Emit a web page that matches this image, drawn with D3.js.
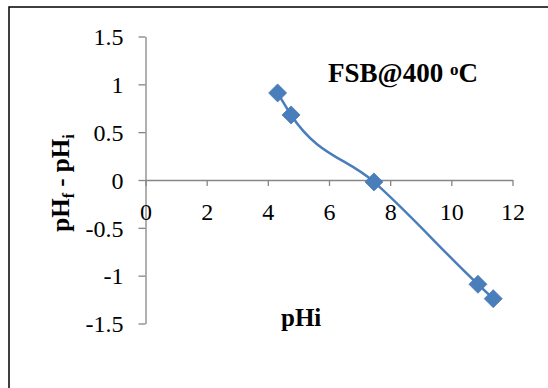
<!DOCTYPE html>
<html>
<head>
<meta charset="utf-8">
<script src="https://cdn.jsdelivr.net/npm/d3@7"></script>
<style>
  html, body { margin: 0; padding: 0; background: #fff; }
  svg { display: block; }
  text { font-family: "Liberation Serif", "Times New Roman", serif; fill: #000; }
</style>
</head>
<body>
<svg id="chart" width="548" height="388"></svg>
<script>
// Initial pH and the change in pH after equilibration
const pHInitial = [4.32, 4.76, 7.47, 10.87, 11.37];
const pHChange = [0.91, 0.68, -0.02, -1.09, -1.24];
const xTicks = [0, 2, 4, 6, 8, 10, 12];
const yTicks = [-1.5, -1, -0.5, 0, 0.5, 1, 1.5];

const svg = d3.select("#chart");
const axisColor = "#868686";
const seriesColor = "#4A7EBB";

// Outer chart border
svg.append("rect")
  .attr("x", 9).attr("y", 7)
  .attr("width", 600).attr("height", 420)
  .attr("fill", "none")
  .attr("stroke", "#000")
  .attr("stroke-width", 1.5);

const x = d3.scaleLinear().domain([0, 12]).range([145.5, 512.5]);
const y = d3.scaleLinear().domain([-1.5, 1.5]).range([323.5, 36.5]);

// Vertical axis at x = 0
const yAxis = svg.append("g")
  .attr("transform", `translate(${x(0)},0)`)
  .call(d3.axisLeft(y).tickValues(yTicks).tickSize(7).tickSizeOuter(0)
    .tickFormat(d => String(d)));
yAxis.select(".domain").attr("stroke", axisColor).attr("stroke-width", 1.3);
yAxis.selectAll(".tick line").attr("stroke", axisColor).attr("stroke-width", 1.3);
yAxis.selectAll(".tick text")
  .attr("x", -22)
  .attr("dy", "0.34em")
  .attr("font-size", 24)
  .style("font-family", "'Liberation Serif', serif")
  .attr("fill", "#000");

// Horizontal axis at y = 0
const xAxis = svg.append("g")
  .attr("transform", `translate(0,${y(0)})`)
  .call(d3.axisBottom(x).tickValues(xTicks).tickSize(6).tickSizeOuter(0)
    .tickFormat(d => String(d)));
xAxis.select(".domain").attr("stroke", axisColor).attr("stroke-width", 1.3);
xAxis.selectAll(".tick line").attr("stroke", axisColor).attr("stroke-width", 1.3);
xAxis.selectAll(".tick text")
  .attr("y", 40)
  .attr("dy", 0)
  .attr("font-size", 24)
  .style("font-family", "'Liberation Serif', serif")
  .attr("fill", "#000");

// Smoothed line through the measurements
const pts = pHInitial.map((v, i) => [v, pHChange[i]]);
const line = d3.line()
  .x(d => x(d[0]))
  .y(d => y(d[1]))
  .curve(d3.curveMonotoneX);
svg.append("path")
  .datum(pts)
  .attr("d", line)
  .attr("fill", "none")
  .attr("stroke", seriesColor)
  .attr("stroke-width", 2.5);

// Diamond markers
const r = 9;
svg.append("g").selectAll("path")
  .data(pts)
  .join("path")
  .attr("transform", d => `translate(${x(d[0])},${y(d[1])})`)
  .attr("d", `M0,${-r}L${r},0L0,${r}L${-r},0Z`)
  .attr("fill", seriesColor)
  .attr("stroke", "#4679B6")
  .attr("stroke-width", 0.8);

// Annotation
const note = svg.append("text")
  .attr("x", 328).attr("y", 82)
  .attr("font-size", 27)
  .attr("font-weight", "bold");
note.append("tspan").text("FSB@400 ");
note.append("tspan").attr("font-size", 17).attr("dy", -7).text("o");
note.append("tspan").attr("dy", 7).text("C");

// Axis titles
svg.append("text")
  .attr("x", 281).attr("y", 326)
  .attr("font-size", 25)
  .attr("font-weight", "bold")
  .text("pHi");

const yTitle = svg.append("text")
  .attr("transform", "translate(69,183) rotate(-90)")
  .attr("text-anchor", "middle")
  .attr("font-size", 25)
  .attr("font-weight", "bold");
yTitle.append("tspan").text("pH");
yTitle.append("tspan").attr("font-size", 16).attr("dy", 5).text("f");
yTitle.append("tspan").attr("dy", -5).text(" - pH");
yTitle.append("tspan").attr("font-size", 16).attr("dy", 5).text("i");
</script>
</body>
</html>
